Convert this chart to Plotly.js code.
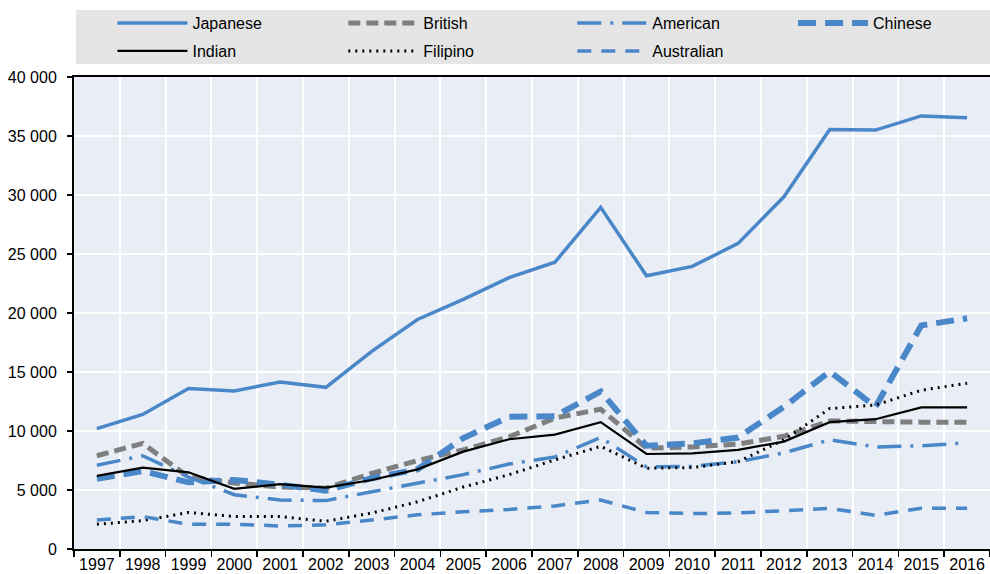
<!DOCTYPE html>
<html>
<head>
<meta charset="utf-8">
<script src="https://cdn.plot.ly/plotly-3.0.1.min.js"></script>
<style>html,body{margin:0;padding:0;background:#fff}#chart{width:990px;height:574px}</style>
</head>
<body>
<div id="chart"></div>
<script>
var years = ["1997","1998","1999","2000","2001","2002","2003","2004","2005","2006","2007","2008","2009","2010","2011","2012","2013","2014","2015","2016"];
var japanese = [10200, 11400, 13600, 13400, 14150, 13700, 16750, 19450, 21150, 23000, 24300, 28950, 23150, 23950, 25900, 29850, 35550, 35500, 36700, 36550];
var british = [7900, 8950, 6100, 5600, 5250, 5150, 6400, 7500, 8400, 9500, 11100, 11850, 8550, 8650, 8900, 9550, 10850, 10750, 10750, 10750];
var american = [7100, 7900, 6100, 4600, 4150, 4100, 4850, 5600, 6300, 7200, 7800, 9450, 6950, 7000, 7400, 8150, 9250, 8650, 8750, 9000];
var chinese = [5950, 6600, 5650, 5850, 5450, 4950, 6000, 6750, 9400, 11200, 11250, 13350, 8750, 8950, 9450, 12050, 15050, 12050, 18950, 19550];
var indian = [6200, 6900, 6500, 5100, 5500, 5200, 5850, 6750, 8250, 9300, 9700, 10750, 8050, 8100, 8400, 9100, 10750, 11000, 12000, 12000];
var filipino = [2100, 2400, 3100, 2750, 2750, 2350, 3050, 4000, 5250, 6300, 7550, 8700, 6850, 6900, 7400, 9250, 11900, 12200, 13450, 14050];
var australian = [2450, 2750, 2100, 2100, 1950, 2050, 2450, 2900, 3150, 3350, 3650, 4150, 3100, 3000, 3050, 3250, 3450, 2850, 3450, 3450];
var yTicks = [0, 5000, 10000, 15000, 20000, 25000, 30000, 35000, 40000];

var BLUE = "#4a87c8", GRAY = "#7f7f7f", BLACK = "#000000";
var FONT = "'Liberation Sans', Arial, sans-serif";

function tr(name, y, color, width, dash, lg) {
  return {type: "scatter", mode: "lines", name: name, x: years, y: y, legend: lg, legendgroup: name,
          line: {color: color, width: width, dash: dash}};
}
var data = [
  tr("Japanese", japanese, BLUE, 3.5, "solid", "legend"),
  tr("British", british, GRAY, 5, "12px,6px", "legend2"),
  tr("American", american, BLUE, 3.5, "24px,9px,3px,9px", "legend3"),
  tr("Chinese", chinese, BLUE, 6, "18px,9px", "legend4"),
  tr("Indian", indian, BLACK, 2.2, "solid", "legend"),
  tr("Filipino", filipino, BLACK, 3, "2px,5px", "legend2"),
  tr("Australian", australian, BLUE, 3.5, "14px,10px", "legend3")
];

function lg(x) {
  return {orientation: "v", x: x, xanchor: "left", y: 1.150, yanchor: "top",
          bgcolor: "rgba(0,0,0,0)", borderwidth: 0, itemwidth: 70, tracegroupgap: 4,
          font: {family: FONT, size: 16, color: "#000"}, traceorder: "grouped"};
}

var layout = {
  width: 990, height: 574,
  margin: {l: 74, r: 0, t: 77, b: 25, pad: 0},
  paper_bgcolor: "#ffffff",
  plot_bgcolor: "#e9edf5",
  font: {family: FONT, size: 16, color: "#000"},
  separators: ". ",
  showlegend: true,
  legend: lg(0.042),
  legend2: lg(0.294),
  legend3: lg(0.544),
  legend4: lg(0.785),
  shapes: [{
    type: "rect", xref: "paper", yref: "paper", x0: 0.002, x1: 1.0, y0: 1.0275, y1: 1.142,
    fillcolor: "#e5e5e5", line: {width: 0}, layer: "below"
  }],
  xaxis: {
    type: "category", range: [-0.5, 19.5], tickson: "boundaries", showgrid: true, gridcolor: "#ffffff", gridwidth: 2,
    ticks: "outside", ticklen: 6, tickwidth: 1.5, tickcolor: "#000", tickangle: 0,
    showline: true, linecolor: "#000", linewidth: 2, mirror: true,
    tickfont: {family: FONT, size: 16}, zeroline: false, fixedrange: true
  },
  yaxis: {
    range: [0, 40000], tickvals: yTicks, tickformat: ",d",
    showgrid: true, gridcolor: "#ffffff", gridwidth: 2,
    ticks: "outside", ticklen: 5, tickwidth: 1.5, tickcolor: "#000", ticklabelstandoff: 7,
    showline: true, linecolor: "#000", linewidth: 2,
    zeroline: false, tickfont: {family: FONT, size: 16}, fixedrange: true
  }
};
Plotly.newPlot("chart", data, layout, {displayModeBar: false, staticPlot: true});
</script>
</body>
</html>
